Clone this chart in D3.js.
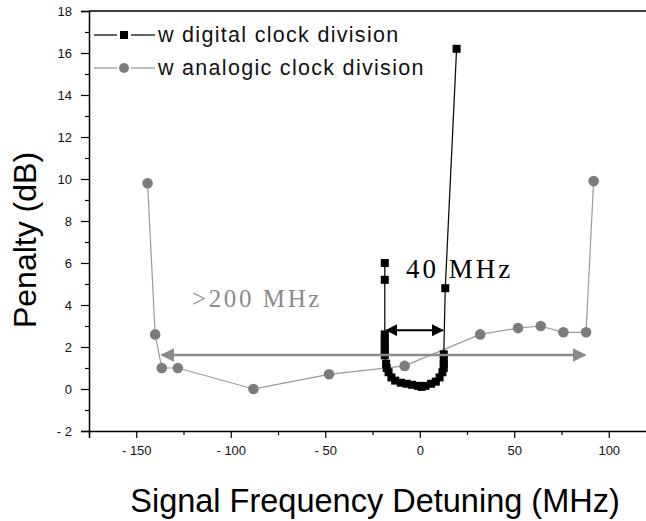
<!DOCTYPE html>
<html>
<head>
<meta charset="utf-8">
<script src="https://cdn.jsdelivr.net/npm/d3@7"></script>
<style>
  body { margin: 0; background: #fff; }
  svg { display: block; }
</style>
</head>
<body>
<div id="chart"></div>
<script>
// digital clock division (black squares)
const digitalX = [-18.5, -18.5, -18.5, -18.5, -18.5, -18.5, -18.5, -18.5, -17.8, -17.5, -16.5, -15, -13, -10, -7, -4, -1, 1, 3, 6, 8.5, 10.5, 12, 12.7, 12.7, 12.7, 12.7, 13.5, 19.5];
const digitalY = [6.0, 5.2, 2.6, 2.4, 2.2, 2.0, 1.8, 1.6, 1.2, 1.0, 0.8, 0.55, 0.4, 0.3, 0.25, 0.2, 0.15, 0.1, 0.15, 0.25, 0.35, 0.55, 0.8, 1.0, 1.2, 1.4, 1.65, 4.8, 16.2];

// analogic clock division (grey circles)
const analogX = [-144, -140, -136.5, -128, -88, -48, -8, 32, 52, 64, 76, 88, 92];
const analogY = [9.8, 2.6, 1.0, 1.0, 0, 0.7, 1.1, 2.6, 2.9, 3.0, 2.7, 2.7, 9.9];

const seriesNames = ["w digital clock division", "w analogic clock division"];

const xTicks = [-150, -100, -50, 0, 50, 100];
const yTicks = [-2, 0, 2, 4, 6, 8, 10, 12, 14, 16, 18];

// annotation arrows: [x1, x2, y]
const wideArrow = [-136.5, 87.5, 1.62];
const narrowArrow = [-17.6, 12.2, 2.8];

const width = 646, height = 521;

const x = d3.scaleLinear().domain([-175, 125]).range([89, 656]);
const y = d3.scaleLinear().domain([-2, 18]).range([431, 11]);

const svg = d3.select("#chart")
  .append("svg")
  .attr("width", width)
  .attr("height", height);

const defs = svg.append("defs");
function marker(id, color, size) {
  defs.append("marker")
    .attr("id", id)
    .attr("viewBox", "0 0 10 10")
    .attr("refX", 9).attr("refY", 5)
    .attr("markerWidth", size).attr("markerHeight", size)
    .attr("markerUnits", "userSpaceOnUse")
    .attr("orient", "auto-start-reverse")
    .append("path")
    .attr("d", "M0,0 L10,5 L0,10 Z")
    .attr("fill", color);
}
marker("head-grey", "#8a8a8a", 14);
marker("head-black", "#000", 12);

// frame (top line, right spine falls outside the window)
svg.append("path")
  .attr("d", `M${x(-175)},${y(18)} H${x(125)} V${y(-2)}`)
  .attr("fill", "none")
  .attr("stroke", "#000")
  .attr("stroke-width", 1.5);

// axes
const tickFmt = d => d < 0 ? "- " + Math.abs(d) : String(d);

svg.append("g")
  .attr("transform", `translate(0,${y(-2)})`)
  .call(d3.axisBottom(x).tickValues(xTicks).tickFormat(tickFmt).tickSize(7).tickPadding(8));
svg.append("g")
  .attr("transform", `translate(0,${y(-2)})`)
  .call(d3.axisBottom(x).tickValues(d3.range(-175, 126, 25).filter(v => !xTicks.includes(v))).tickFormat("").tickSize(4))
  .call(g => g.select(".domain").remove());

svg.append("g")
  .attr("transform", `translate(${x(-175)},0)`)
  .call(d3.axisLeft(y).tickValues(yTicks).tickFormat(tickFmt).tickSize(8).tickPadding(9));
svg.append("g")
  .attr("transform", `translate(${x(-175)},0)`)
  .call(d3.axisLeft(y).tickValues(d3.range(-1, 18, 2)).tickFormat("").tickSize(4))
  .call(g => g.select(".domain").remove());

svg.selectAll(".domain").attr("stroke-width", 1.5);
svg.selectAll(".tick line").attr("stroke-width", 1.2);
svg.selectAll(".tick text")
  .attr("font-family", "'Liberation Sans', Arial, sans-serif")
  .attr("font-size", 13)
  .attr("fill", "#111");

// axis titles
svg.append("text")
  .attr("x", 375).attr("y", 512)
  .attr("text-anchor", "middle")
  .attr("font-family", "'Liberation Sans', Arial, sans-serif")
  .attr("font-size", 32.5)
  .text("Signal Frequency Detuning (MHz)");

svg.append("text")
  .attr("transform", "translate(36,240) rotate(-90)")
  .attr("text-anchor", "middle")
  .attr("font-family", "'Liberation Sans', Arial, sans-serif")
  .attr("font-size", 32)
  .text("Penalty (dB)");

// annotation texts
svg.append("text")
  .attr("x", 192).attr("y", 307)
  .attr("font-family", "'Liberation Serif', 'Times New Roman', serif")
  .attr("font-size", 25)
  .attr("letter-spacing", 2.6)
  .attr("fill", "#8a8a8a")
  .text(">200 MHz");

svg.append("text")
  .attr("x", 406).attr("y", 278)
  .attr("font-family", "'Liberation Serif', 'Times New Roman', serif")
  .attr("font-size", 27)
  .attr("letter-spacing", 3)
  .attr("fill", "#000")
  .text("40 MHz");

// analogic series
const analog = analogX.map((v, i) => [v, analogY[i]]);
const digital = digitalX.map((v, i) => [v, digitalY[i]]);
const line = d3.line().x(d => x(d[0])).y(d => y(d[1]));

svg.append("path")
  .datum(analog)
  .attr("d", line)
  .attr("fill", "none")
  .attr("stroke", "#9a9a9a")
  .attr("stroke-width", 1.2);

svg.append("g")
  .selectAll("circle")
  .data(analog)
  .join("circle")
  .attr("cx", d => x(d[0]))
  .attr("cy", d => y(d[1]))
  .attr("r", 5.3)
  .attr("fill", "#7c7c7c");

// digital series
svg.append("path")
  .datum(digital)
  .attr("d", line)
  .attr("fill", "none")
  .attr("stroke", "#111")
  .attr("stroke-width", 1.3);

svg.append("g")
  .selectAll("rect")
  .data(digital)
  .join("rect")
  .attr("x", d => x(d[0]) - 4)
  .attr("y", d => y(d[1]) - 4)
  .attr("width", 8)
  .attr("height", 8)
  .attr("fill", "#000");

// arrows
svg.append("line")
  .attr("x1", x(wideArrow[0])).attr("x2", x(wideArrow[1]))
  .attr("y1", y(wideArrow[2])).attr("y2", y(wideArrow[2]))
  .attr("stroke", "#8a8a8a")
  .attr("stroke-width", 2.5)
  .attr("marker-start", "url(#head-grey)")
  .attr("marker-end", "url(#head-grey)");

svg.append("line")
  .attr("x1", x(narrowArrow[0])).attr("x2", x(narrowArrow[1]))
  .attr("y1", y(narrowArrow[2])).attr("y2", y(narrowArrow[2]))
  .attr("stroke", "#000")
  .attr("stroke-width", 2)
  .attr("marker-start", "url(#head-black)")
  .attr("marker-end", "url(#head-black)");

// legend
const legend = svg.append("g");
const legendRows = [
  { name: seriesNames[0], y: 35, stroke: "#111", fill: "#000", shape: "rect" },
  { name: seriesNames[1], y: 68, stroke: "#9a9a9a", fill: "#7c7c7c", shape: "circle" }
];
legendRows.forEach(r => {
  [[94, 117], [131, 155]].forEach(([a, b]) => legend.append("line")
    .attr("x1", a).attr("x2", b)
    .attr("y1", r.y).attr("y2", r.y)
    .attr("stroke", r.stroke)
    .attr("stroke-width", 1.3));
  if (r.shape === "rect") {
    legend.append("rect")
      .attr("x", 124 - 4).attr("y", r.y - 4)
      .attr("width", 8).attr("height", 8)
      .attr("fill", r.fill);
  } else {
    legend.append("circle")
      .attr("cx", 124).attr("cy", r.y).attr("r", 5)
      .attr("fill", r.fill);
  }
  legend.append("text")
    .attr("x", 158).attr("y", r.y + 7)
    .attr("font-family", "'Liberation Sans', Arial, sans-serif")
    .attr("font-size", 21.5)
    .attr("letter-spacing", 1.3)
    .attr("fill", "#111")
    .text(r.name);
});
</script>
</body>
</html>
